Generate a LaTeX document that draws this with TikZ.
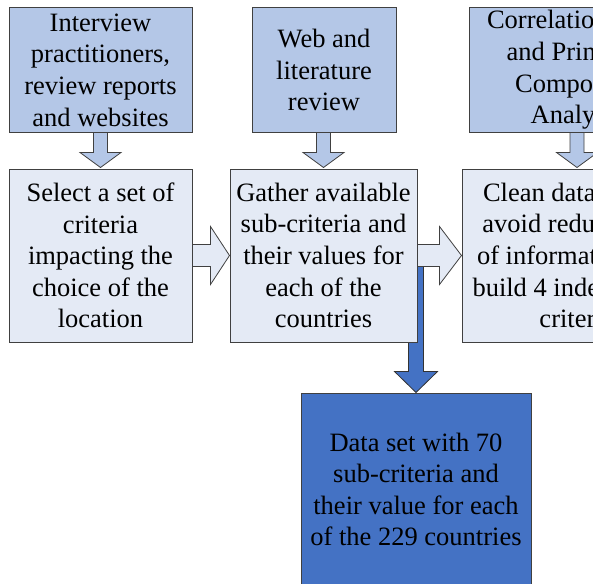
\documentclass[tikz,border=0pt]{standalone}
\usepackage{fontspec}
\setmainfont{Liberation Serif}
\usetikzlibrary{backgrounds}
\definecolor{topblue}{HTML}{B4C7E7}
\definecolor{midblue}{HTML}{E4EAF5}
\definecolor{darkblue}{HTML}{4472C4}
\definecolor{edgegray}{HTML}{404040}
\begin{document}
\begin{tikzpicture}[x=1pt,y=-1pt,
  box/.style={draw=edgegray,line width=1pt,inner sep=0pt,align=center,
    font=\fontsize{26.5}{31.6}\selectfont},
  srcbox/.style={box,fill=topblue},
  stepbox/.style={box,fill=midblue},
  outbox/.style={box,fill=darkblue},
  downarrow/.style={draw=edgegray,line width=0.8pt,fill=topblue,line join=miter},
  rightarrow/.style={draw=edgegray,line width=0.8pt,fill=midblue,line join=miter},
  darkarrow/.style={draw=black!80,line width=0.8pt,fill=darkblue,line join=miter}]
\useasboundingbox (0,0) rectangle (593,583);
\clip (0,0) rectangle (593,583);

% source boxes
\node[srcbox,minimum width=183pt,minimum height=124pt] (A) at (100.5,70)
  {Interview\\practitioners,\\review reports\\and websites};
\node[srcbox,minimum width=144pt,minimum height=124pt] (B) at (324,70)
  {Web and\\literature\\review};
\node[srcbox,minimum width=216pt,minimum height=124pt] (C) at (577,70)
  {\makebox[180pt][l]{Correlation}\\and Principal\\Component\\Analysis};

% step boxes
\node[stepbox,minimum width=183pt,minimum height=173pt] (D) at (100.5,255.5)
  {Select a set of\\criteria\\impacting the\\choice of the\\location};
\node[stepbox,minimum width=187pt,minimum height=173pt] (E) at (323.5,255.5)
  {Gather available\\sub-criteria and\\their values for\\each of the\\countries};
\node[stepbox,minimum width=230pt,minimum height=173pt] (F) at (577,255.5)
  {\makebox[188pt][l]{Clean data}\\avoid redundancy\\\makebox[200pt][l]{of information}\\\makebox[209pt][l]{build 4 independent}\\criteria};

% output box
\node[outbox,minimum width=230pt,minimum height=193pt] (G) at (416,489.5)
  {Data set with 70\\sub-criteria and\\their value for each\\of the 229 countries};

% dark arrow behind the boxes
\begin{pgfonlayer}{background}
\draw[darkarrow]
  ([xshift=-7.5pt]G.north |- E.east) --
  ([xshift=-7.5pt,yshift=21pt]G.north) --
  ([xshift=-21.5pt,yshift=21pt]G.north) --
  (G.north) --
  ([xshift=21.5pt,yshift=21pt]G.north) --
  ([xshift=7.5pt,yshift=21pt]G.north) --
  ([xshift=7.5pt]G.north |- E.east) -- cycle;
\end{pgfonlayer}

% down arrows
\foreach \s/\t in {A/D,B/E,C/F}{
  \draw[downarrow]
    ([xshift=-7pt]\t.north |- \s.south) --
    ([xshift=-7pt,yshift=16pt]\t.north) --
    ([xshift=-20.5pt,yshift=16pt]\t.north) --
    ([yshift=1pt]\t.north) --
    ([xshift=20.5pt,yshift=16pt]\t.north) --
    ([xshift=7pt,yshift=16pt]\t.north) --
    ([xshift=7pt]\t.north |- \s.south) -- cycle;
}

% right arrows
\draw[rightarrow]
  ([yshift=11pt]D.east) --
  ([xshift=-19pt,yshift=11pt]E.west) --
  ([xshift=-19pt,yshift=29pt]E.west) --
  (E.west) --
  ([xshift=-19pt,yshift=-29pt]E.west) --
  ([xshift=-19pt,yshift=-11pt]E.west) --
  ([yshift=-11pt]D.east) -- cycle;
\draw[rightarrow]
  ([yshift=11pt]E.east) --
  ([xshift=-22pt,yshift=11pt]F.west) --
  ([xshift=-22pt,yshift=29pt]F.west) --
  (F.west) --
  ([xshift=-22pt,yshift=-29pt]F.west) --
  ([xshift=-22pt,yshift=-11pt]F.west) --
  ([yshift=-11pt]E.east) -- cycle;
\end{tikzpicture}
\end{document}
